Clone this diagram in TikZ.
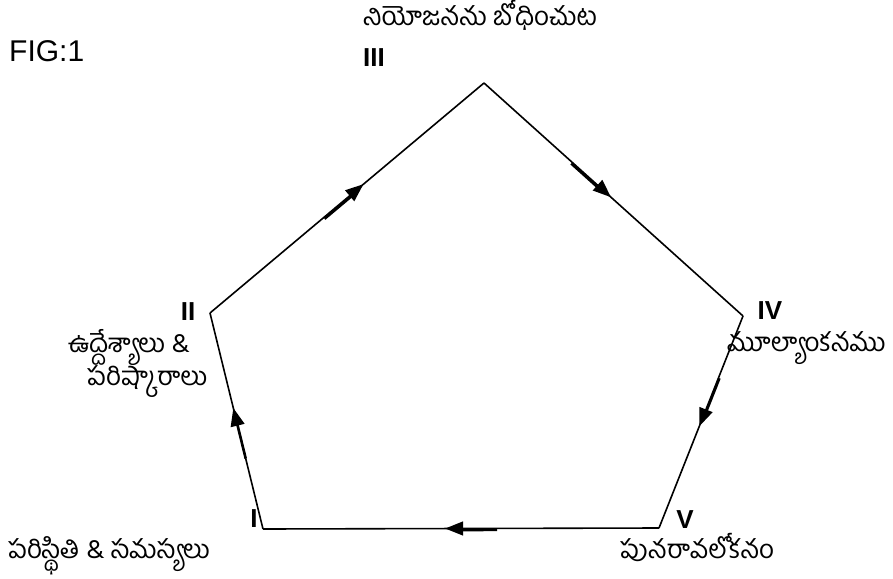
\documentclass[tikz,border=0pt]{standalone}
\usepackage{fontspec}
\setmainfont{Liberation Sans}
\newfontfamily\tel[Script=Telugu]{Hind Guntur}
\usetikzlibrary{arrows.meta,decorations.markings}
\tikzset{
  edge/.style={line width=1.6pt},
  flow/.style 2 args={postaction={decorate},
    decoration={markings, mark=at position #1 with {\arrow{Triangle[length=18pt,width=14pt]};
      \draw[line width=2.6pt] (-52pt,#2) -- (-14pt,#2);}}},
  roman/.style={font=\bfseries\fontsize{26}{26}\selectfont, inner sep=0pt},
  teltext/.style={font=\tel\fontsize{26}{26}\selectfont, inner sep=0pt, anchor=base west},
}
\begin{document}
\begin{tikzpicture}[x=1pt,y=1pt]
\useasboundingbox (0,0) rectangle (893,-578);
% vertices
\coordinate (vI)   at (263,-529);
\coordinate (vII)  at (210,-313);
\coordinate (vIII) at (484,-83);
\coordinate (vIV)  at (743,-316);
\coordinate (vV)   at (659,-528);
% edges
\draw[edge, flow={0.56}{0pt}] (vI) -- (vII);
\draw[edge, flow={0.56}{-1.5pt}] (vII) -- (vIII);
\draw[edge, flow={0.49}{-1.5pt}] (vIII) -- (vIV);
\draw[edge, flow={0.52}{1pt}] (vIV) -- (vV);
\draw[edge, flow={0.54}{1.5pt}] (vV) -- (vI);
% labels
\node[font=\fontsize{30}{30}\selectfont, inner sep=0pt, anchor=base west] (fig) at (9,-61) {FIG:1};
\node[roman] (lIII) at (374,-58) {III};
\node[roman] (lII) at (188,-312) {II};
\node[roman] (lI) at (254,-519) {I};
\node[roman] (lV) at (685,-520) {V};
\node[roman] (lIV) at (770,-311) {IV};
\node[teltext, anchor=base] (tIII) at (480,-26) {నియోజనను బోధించుట};
\node[teltext] (tII1) at (68,-352) {ఉద్దేశ్యాలు \&};
\node[teltext] (tII2) at (87,-385) {పరిష్కారాలు};
\node[teltext] (tI) at (8,-558) {పరిస్థితి \& సమస్యలు};
\node[teltext] (tV) at (620,-558) {పునరావలోకనం};
\node[teltext] (tIV) at (727,-351) {మూల్యాంకనము};
\end{tikzpicture}
\end{document}
